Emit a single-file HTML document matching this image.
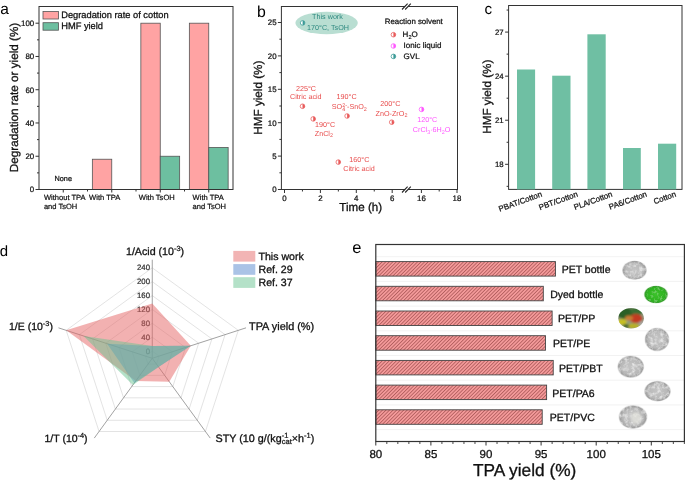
<!DOCTYPE html>
<html><head><meta charset="utf-8"><style>
html,body{margin:0;padding:0;background:#fff;width:685px;height:480px;overflow:hidden}
svg{display:block;will-change:transform}
text{font-family:"Liberation Sans",sans-serif;text-rendering:geometricPrecision}
</style></head><body>
<svg width="685" height="480" viewBox="0 0 685 480">
<rect width="685" height="480" fill="#fff"/>
<text x="0.20" y="14.10" font-size="15.5" fill="#000" stroke="#000" stroke-width="0.000" text-anchor="start" >a</text>
<rect x="92.35" y="159.23" width="19.40" height="30.27" fill="#FFA3A3" stroke="#555" stroke-width="0.8" />
<rect x="140.85" y="23.20" width="19.40" height="166.30" fill="#FFA3A3" stroke="#555" stroke-width="0.8" />
<rect x="160.25" y="156.24" width="19.40" height="33.26" fill="#6DBFA0" stroke="#555" stroke-width="0.8" />
<rect x="189.35" y="23.20" width="19.40" height="166.30" fill="#FFA3A3" stroke="#555" stroke-width="0.8" />
<rect x="208.75" y="147.43" width="19.40" height="42.07" fill="#6DBFA0" stroke="#555" stroke-width="0.8" />
<rect x="39.0" y="6.5" width="194.0" height="183.0" fill="none" stroke="#333" stroke-width="1"/>
<line x1="35.50" y1="189.50" x2="39.00" y2="189.50" stroke="#333" stroke-width="1" />
<text x="34.20" y="192.30" font-size="7.9" fill="#111" stroke="#111" stroke-width="0.237" text-anchor="end" >0</text>
<line x1="35.50" y1="156.24" x2="39.00" y2="156.24" stroke="#333" stroke-width="1" />
<text x="34.20" y="159.04" font-size="7.9" fill="#111" stroke="#111" stroke-width="0.237" text-anchor="end" >20</text>
<line x1="35.50" y1="122.98" x2="39.00" y2="122.98" stroke="#333" stroke-width="1" />
<text x="34.20" y="125.78" font-size="7.9" fill="#111" stroke="#111" stroke-width="0.237" text-anchor="end" >40</text>
<line x1="35.50" y1="89.72" x2="39.00" y2="89.72" stroke="#333" stroke-width="1" />
<text x="34.20" y="92.52" font-size="7.9" fill="#111" stroke="#111" stroke-width="0.237" text-anchor="end" >60</text>
<line x1="35.50" y1="56.46" x2="39.00" y2="56.46" stroke="#333" stroke-width="1" />
<text x="34.20" y="59.26" font-size="7.9" fill="#111" stroke="#111" stroke-width="0.237" text-anchor="end" >80</text>
<line x1="35.50" y1="23.20" x2="39.00" y2="23.20" stroke="#333" stroke-width="1" />
<text x="34.20" y="26.00" font-size="7.9" fill="#111" stroke="#111" stroke-width="0.237" text-anchor="end" >100</text>
<line x1="37.00" y1="172.87" x2="39.00" y2="172.87" stroke="#333" stroke-width="1" />
<line x1="37.00" y1="139.61" x2="39.00" y2="139.61" stroke="#333" stroke-width="1" />
<line x1="37.00" y1="106.35" x2="39.00" y2="106.35" stroke="#333" stroke-width="1" />
<line x1="37.00" y1="73.09" x2="39.00" y2="73.09" stroke="#333" stroke-width="1" />
<line x1="37.00" y1="39.83" x2="39.00" y2="39.83" stroke="#333" stroke-width="1" />
<line x1="63.25" y1="189.50" x2="63.25" y2="192.50" stroke="#333" stroke-width="1" />
<line x1="111.75" y1="189.50" x2="111.75" y2="192.50" stroke="#333" stroke-width="1" />
<line x1="160.25" y1="189.50" x2="160.25" y2="192.50" stroke="#333" stroke-width="1" />
<line x1="208.75" y1="189.50" x2="208.75" y2="192.50" stroke="#333" stroke-width="1" />
<line x1="87.50" y1="189.50" x2="87.50" y2="191.50" stroke="#333" stroke-width="1" />
<line x1="136.00" y1="189.50" x2="136.00" y2="191.50" stroke="#333" stroke-width="1" />
<line x1="184.50" y1="189.50" x2="184.50" y2="191.50" stroke="#333" stroke-width="1" />
<rect x="43.00" y="11.50" width="15.50" height="7.50" fill="#FFA3A3" stroke="#555" stroke-width="0.8" />
<rect x="43.00" y="22.70" width="15.50" height="7.50" fill="#6DBFA0" stroke="#555" stroke-width="0.8" />
<text x="61.20" y="18.00" font-size="9.3" fill="#111" stroke="#111" stroke-width="0.279" text-anchor="start" >Degradation rate of cotton</text>
<text x="61.20" y="29.20" font-size="9.3" fill="#111" stroke="#111" stroke-width="0.279" text-anchor="start" >HMF yield</text>
<text x="54.50" y="181.40" font-size="7.3" fill="#111" stroke="#111" stroke-width="0.219" text-anchor="start" >None</text>
<text x="43.90" y="199.80" font-size="7.55" fill="#111" stroke="#111" stroke-width="0.226" text-anchor="start" >Without TPA</text>
<text x="43.90" y="208.80" font-size="7.55" fill="#111" stroke="#111" stroke-width="0.226" text-anchor="start" >and TsOH</text>
<text x="89.10" y="199.80" font-size="7.55" fill="#111" stroke="#111" stroke-width="0.226" text-anchor="start" >With TPA</text>
<text x="138.80" y="199.80" font-size="7.55" fill="#111" stroke="#111" stroke-width="0.226" text-anchor="start" >With TsOH</text>
<text x="192.60" y="199.80" font-size="7.55" fill="#111" stroke="#111" stroke-width="0.226" text-anchor="start" >With TPA</text>
<text x="192.60" y="208.80" font-size="7.55" fill="#111" stroke="#111" stroke-width="0.226" text-anchor="start" >and TsOH</text>
<text x="0.00" y="0.00" font-size="11.7" fill="#111" stroke="#111" stroke-width="0.300" text-anchor="middle" transform="translate(17.6,97.5) rotate(-90)">Degradation rate or yield (%)</text>
<text x="257.00" y="16.60" font-size="15.8" fill="#000" stroke="#000" stroke-width="0.000" text-anchor="start" >b</text>
<ellipse cx="326.6" cy="23.0" rx="31.2" ry="11.2" fill="#B9DED2"/>
<rect x="281.4" y="6.5" width="176.10000000000002" height="183.0" fill="none" stroke="#333" stroke-width="1"/>
<polygon points="402.3,9.3 407.6,3.9 410.8,3.9 405.5,9.3" fill="#fff"/>
<line x1="402.00" y1="9.50" x2="407.60" y2="3.70" stroke="#222" stroke-width="1.1" />
<line x1="405.20" y1="9.50" x2="410.80" y2="3.70" stroke="#222" stroke-width="1.1" />
<polygon points="402.3,192.3 407.6,186.9 410.8,186.9 405.5,192.3" fill="#fff"/>
<line x1="402.00" y1="192.50" x2="407.60" y2="186.70" stroke="#222" stroke-width="1.1" />
<line x1="405.20" y1="192.50" x2="410.80" y2="186.70" stroke="#222" stroke-width="1.1" />
<line x1="277.90" y1="189.50" x2="281.40" y2="189.50" stroke="#333" stroke-width="1" />
<text x="276.60" y="192.30" font-size="7.9" fill="#111" stroke="#111" stroke-width="0.237" text-anchor="end" >0</text>
<line x1="277.90" y1="156.10" x2="281.40" y2="156.10" stroke="#333" stroke-width="1" />
<text x="276.60" y="158.90" font-size="7.9" fill="#111" stroke="#111" stroke-width="0.237" text-anchor="end" >5</text>
<line x1="277.90" y1="122.70" x2="281.40" y2="122.70" stroke="#333" stroke-width="1" />
<text x="276.60" y="125.50" font-size="7.9" fill="#111" stroke="#111" stroke-width="0.237" text-anchor="end" >10</text>
<line x1="277.90" y1="89.30" x2="281.40" y2="89.30" stroke="#333" stroke-width="1" />
<text x="276.60" y="92.10" font-size="7.9" fill="#111" stroke="#111" stroke-width="0.237" text-anchor="end" >15</text>
<line x1="277.90" y1="55.90" x2="281.40" y2="55.90" stroke="#333" stroke-width="1" />
<text x="276.60" y="58.70" font-size="7.9" fill="#111" stroke="#111" stroke-width="0.237" text-anchor="end" >20</text>
<line x1="277.90" y1="22.50" x2="281.40" y2="22.50" stroke="#333" stroke-width="1" />
<text x="276.60" y="25.30" font-size="7.9" fill="#111" stroke="#111" stroke-width="0.237" text-anchor="end" >25</text>
<line x1="279.40" y1="172.80" x2="281.40" y2="172.80" stroke="#333" stroke-width="1" />
<line x1="279.40" y1="139.40" x2="281.40" y2="139.40" stroke="#333" stroke-width="1" />
<line x1="279.40" y1="106.00" x2="281.40" y2="106.00" stroke="#333" stroke-width="1" />
<line x1="279.40" y1="72.60" x2="281.40" y2="72.60" stroke="#333" stroke-width="1" />
<line x1="279.40" y1="39.20" x2="281.40" y2="39.20" stroke="#333" stroke-width="1" />
<line x1="284.50" y1="189.50" x2="284.50" y2="193.00" stroke="#333" stroke-width="1" />
<text x="284.50" y="200.60" font-size="7.9" fill="#111" stroke="#111" stroke-width="0.237" text-anchor="middle" >0</text>
<line x1="320.40" y1="189.50" x2="320.40" y2="193.00" stroke="#333" stroke-width="1" />
<text x="320.40" y="200.60" font-size="7.9" fill="#111" stroke="#111" stroke-width="0.237" text-anchor="middle" >2</text>
<line x1="356.30" y1="189.50" x2="356.30" y2="193.00" stroke="#333" stroke-width="1" />
<text x="356.30" y="200.60" font-size="7.9" fill="#111" stroke="#111" stroke-width="0.237" text-anchor="middle" >4</text>
<line x1="392.20" y1="189.50" x2="392.20" y2="193.00" stroke="#333" stroke-width="1" />
<text x="392.20" y="200.60" font-size="7.9" fill="#111" stroke="#111" stroke-width="0.237" text-anchor="middle" >6</text>
<line x1="421.40" y1="189.50" x2="421.40" y2="193.00" stroke="#333" stroke-width="1" />
<text x="421.40" y="200.60" font-size="7.9" fill="#111" stroke="#111" stroke-width="0.237" text-anchor="middle" >16</text>
<line x1="457.00" y1="189.50" x2="457.00" y2="193.00" stroke="#333" stroke-width="1" />
<text x="457.00" y="200.60" font-size="7.9" fill="#111" stroke="#111" stroke-width="0.237" text-anchor="middle" >18</text>
<line x1="302.45" y1="189.50" x2="302.45" y2="191.50" stroke="#333" stroke-width="1" />
<line x1="338.35" y1="189.50" x2="338.35" y2="191.50" stroke="#333" stroke-width="1" />
<line x1="374.25" y1="189.50" x2="374.25" y2="191.50" stroke="#333" stroke-width="1" />
<line x1="439.20" y1="189.50" x2="439.20" y2="191.50" stroke="#333" stroke-width="1" />
<text x="360.70" y="211.00" font-size="11.6" fill="#111" stroke="#111" stroke-width="0.300" text-anchor="middle" >Time (h)</text>
<text x="0.00" y="0.00" font-size="11.7" fill="#111" stroke="#111" stroke-width="0.300" text-anchor="middle" transform="translate(261.7,97.65) rotate(-90)">HMF yield (%)</text>
<circle cx="302.60" cy="22.90" r="2.3" fill="#fff" stroke="#3A9A96" stroke-width="0.75"/>
<path d="M302.60,20.60 A2.3,2.3 0 0,1 302.60,25.20 Z" fill="#3A9A96"/>
<text x="327.50" y="19.40" font-size="7.2" fill="#2F8A80" stroke="#2F8A80" stroke-width="0.000" text-anchor="middle" >This work</text>
<text x="328.00" y="29.50" font-size="7.2" fill="#2F8A80" stroke="#2F8A80" stroke-width="0.000" text-anchor="middle" >170°C, TsOH</text>
<text x="384.80" y="23.90" font-size="7.85" fill="#111" stroke="#111" stroke-width="0.235" text-anchor="start" >Reaction solvent</text>
<circle cx="393.40" cy="34.70" r="2.3" fill="#fff" stroke="#E85A5A" stroke-width="0.75"/>
<path d="M393.40,32.40 A2.3,2.3 0 0,1 393.40,37.00 Z" fill="#E85A5A"/>
<circle cx="393.40" cy="46.00" r="2.3" fill="#fff" stroke="#FF55FF" stroke-width="0.75"/>
<path d="M393.40,43.70 A2.3,2.3 0 0,1 393.40,48.30 Z" fill="#FF55FF"/>
<circle cx="393.40" cy="56.40" r="2.3" fill="#fff" stroke="#3A9A96" stroke-width="0.75"/>
<path d="M393.40,54.10 A2.3,2.3 0 0,1 393.40,58.70 Z" fill="#3A9A96"/>
<text x="402.60" y="37.20" font-size="8.00" fill="#111" stroke="#111" stroke-width="0.240">H</text>
<text x="408.38" y="38.96" font-size="5.60" fill="#111" stroke="#111" stroke-width="0.168">2</text>
<text x="411.49" y="37.20" font-size="8.00" fill="#111" stroke="#111" stroke-width="0.240">O</text>
<text x="403.60" y="48.30" font-size="8.0" fill="#111" stroke="#111" stroke-width="0.240" text-anchor="start" >Ionic liquid</text>
<text x="403.60" y="58.70" font-size="8.0" fill="#111" stroke="#111" stroke-width="0.240" text-anchor="start" >GVL</text>
<circle cx="302.50" cy="106.25" r="2.3" fill="#fff" stroke="#E85A5A" stroke-width="0.75"/>
<path d="M302.50,103.95 A2.3,2.3 0 0,1 302.50,108.55 Z" fill="#E85A5A"/>
<circle cx="313.20" cy="118.90" r="2.3" fill="#fff" stroke="#E85A5A" stroke-width="0.75"/>
<path d="M313.20,116.60 A2.3,2.3 0 0,1 313.20,121.20 Z" fill="#E85A5A"/>
<circle cx="347.10" cy="116.00" r="2.3" fill="#fff" stroke="#E85A5A" stroke-width="0.75"/>
<path d="M347.10,113.70 A2.3,2.3 0 0,1 347.10,118.30 Z" fill="#E85A5A"/>
<circle cx="338.30" cy="162.10" r="2.3" fill="#fff" stroke="#E85A5A" stroke-width="0.75"/>
<path d="M338.30,159.80 A2.3,2.3 0 0,1 338.30,164.40 Z" fill="#E85A5A"/>
<circle cx="391.70" cy="122.20" r="2.3" fill="#fff" stroke="#E85A5A" stroke-width="0.75"/>
<path d="M391.70,119.90 A2.3,2.3 0 0,1 391.70,124.50 Z" fill="#E85A5A"/>
<circle cx="421.50" cy="109.40" r="2.3" fill="#fff" stroke="#FF55FF" stroke-width="0.75"/>
<path d="M421.50,107.10 A2.3,2.3 0 0,1 421.50,111.70 Z" fill="#FF55FF"/>
<text x="306.00" y="90.60" font-size="7.2" fill="#E84C4C" stroke="#E84C4C" stroke-width="0.000" text-anchor="middle" >225°C</text>
<text x="305.80" y="99.40" font-size="7.2" fill="#E84C4C" stroke="#E84C4C" stroke-width="0.000" text-anchor="middle" >Citric acid</text>
<text x="325.10" y="126.90" font-size="7.2" fill="#E84C4C" stroke="#E84C4C" stroke-width="0.000" text-anchor="middle" >190°C</text>
<text x="314.75" y="135.60" font-size="7.20" fill="#E84C4C" stroke="#E84C4C" stroke-width="0.000">ZnCl</text>
<text x="329.95" y="137.18" font-size="5.40" fill="#E84C4C" stroke="#E84C4C" stroke-width="0.000">2</text>
<text x="346.60" y="98.75" font-size="7.2" fill="#E84C4C" stroke="#E84C4C" stroke-width="0.000" text-anchor="middle" >190°C</text>
<text x="331.80" y="109.00" font-size="7.20" fill="#E84C4C" stroke="#E84C4C" stroke-width="0.000">SO</text>
<text x="342.20" y="106.55" font-size="5.40" fill="#E84C4C" stroke="#E84C4C" stroke-width="0.000">2-</text>
<text x="342.20" y="110.73" font-size="5.40" fill="#E84C4C" stroke="#E84C4C" stroke-width="0.000">4</text>
<text x="347.00" y="109.00" font-size="7.20" fill="#E84C4C" stroke="#E84C4C" stroke-width="0.000">-SnO</text>
<text x="363.81" y="110.58" font-size="5.40" fill="#E84C4C" stroke="#E84C4C" stroke-width="0.000">2</text>
<text x="359.30" y="161.80" font-size="7.2" fill="#E84C4C" stroke="#E84C4C" stroke-width="0.000" text-anchor="middle" >160°C</text>
<text x="359.00" y="170.60" font-size="7.2" fill="#E84C4C" stroke="#E84C4C" stroke-width="0.000" text-anchor="middle" >Citric acid</text>
<text x="390.40" y="106.40" font-size="7.2" fill="#E84C4C" stroke="#E84C4C" stroke-width="0.000" text-anchor="middle" >200°C</text>
<text x="375.60" y="115.60" font-size="7.20" fill="#E84C4C" stroke="#E84C4C" stroke-width="0.000">ZnO-ZrO</text>
<text x="404.40" y="117.18" font-size="5.40" fill="#E84C4C" stroke="#E84C4C" stroke-width="0.000">2</text>
<text x="427.20" y="122.20" font-size="7.2" fill="#FF55FF" stroke="#FF55FF" stroke-width="0.000" text-anchor="middle" >120°C</text>
<text x="412.80" y="132.00" font-size="7.20" fill="#FF55FF" stroke="#FF55FF" stroke-width="0.000">CrCl</text>
<text x="427.20" y="133.58" font-size="5.40" fill="#FF55FF" stroke="#FF55FF" stroke-width="0.000">3</text>
<text x="430.20" y="132.00" font-size="7.20" fill="#FF55FF" stroke="#FF55FF" stroke-width="0.000">·6H</text>
<text x="441.80" y="133.58" font-size="5.40" fill="#FF55FF" stroke="#FF55FF" stroke-width="0.000">2</text>
<text x="444.81" y="132.00" font-size="7.20" fill="#FF55FF" stroke="#FF55FF" stroke-width="0.000">O</text>
<text x="484.60" y="14.00" font-size="15.2" fill="#000" stroke="#000" stroke-width="0.000" text-anchor="start" >c</text>
<rect x="508.6" y="5.5" width="173.39999999999998" height="183.9" fill="none" stroke="#333" stroke-width="1"/>
<line x1="505.10" y1="164.30" x2="508.60" y2="164.30" stroke="#333" stroke-width="1" />
<text x="503.70" y="167.10" font-size="7.8" fill="#111" stroke="#111" stroke-width="0.234" text-anchor="end" >18</text>
<line x1="505.10" y1="120.23" x2="508.60" y2="120.23" stroke="#333" stroke-width="1" />
<text x="503.70" y="123.03" font-size="7.8" fill="#111" stroke="#111" stroke-width="0.234" text-anchor="end" >21</text>
<line x1="505.10" y1="76.16" x2="508.60" y2="76.16" stroke="#333" stroke-width="1" />
<text x="503.70" y="78.96" font-size="7.8" fill="#111" stroke="#111" stroke-width="0.234" text-anchor="end" >24</text>
<line x1="505.10" y1="32.09" x2="508.60" y2="32.09" stroke="#333" stroke-width="1" />
<text x="503.70" y="34.89" font-size="7.8" fill="#111" stroke="#111" stroke-width="0.234" text-anchor="end" >27</text>
<line x1="506.60" y1="186.34" x2="508.60" y2="186.34" stroke="#333" stroke-width="1" />
<line x1="506.60" y1="142.27" x2="508.60" y2="142.27" stroke="#333" stroke-width="1" />
<line x1="506.60" y1="98.20" x2="508.60" y2="98.20" stroke="#333" stroke-width="1" />
<line x1="506.60" y1="54.13" x2="508.60" y2="54.13" stroke="#333" stroke-width="1" />
<line x1="506.60" y1="10.06" x2="508.60" y2="10.06" stroke="#333" stroke-width="1" />
<rect x="517.00" y="69.50" width="18.10" height="119.90" fill="#6FBFA3" stroke="none" stroke-width="1" />
<rect x="552.20" y="75.70" width="18.30" height="113.70" fill="#6FBFA3" stroke="none" stroke-width="1" />
<rect x="587.40" y="34.30" width="18.30" height="155.10" fill="#6FBFA3" stroke="none" stroke-width="1" />
<rect x="623.00" y="148.00" width="17.80" height="41.40" fill="#6FBFA3" stroke="none" stroke-width="1" />
<rect x="658.00" y="143.70" width="18.20" height="45.70" fill="#6FBFA3" stroke="none" stroke-width="1" />
<text x="0.00" y="0.00" font-size="7.9" fill="#111" stroke="#111" stroke-width="0.237" text-anchor="end" transform="translate(542.60,196.2) rotate(-20)">PBAT/Cotton</text>
<text x="0.00" y="0.00" font-size="7.9" fill="#111" stroke="#111" stroke-width="0.237" text-anchor="end" transform="translate(578.30,196.2) rotate(-20)">PBT/Cotton</text>
<text x="0.00" y="0.00" font-size="7.9" fill="#111" stroke="#111" stroke-width="0.237" text-anchor="end" transform="translate(613.00,196.2) rotate(-20)">PLA/Cotton</text>
<text x="0.00" y="0.00" font-size="7.9" fill="#111" stroke="#111" stroke-width="0.237" text-anchor="end" transform="translate(647.50,196.2) rotate(-20)">PA6/Cotton</text>
<text x="0.00" y="0.00" font-size="7.9" fill="#111" stroke="#111" stroke-width="0.237" text-anchor="end" transform="translate(676.60,196.2) rotate(-20)">Cotton</text>
<text x="0.00" y="0.00" font-size="11.7" fill="#111" stroke="#111" stroke-width="0.300" text-anchor="middle" transform="translate(490.6,96.7) rotate(-90)">HMF yield (%)</text>
<text x="-0.3" y="255.9" font-size="15" fill="#000">d</text>
<polygon points="152.25,351.10 159.10,356.08 156.48,364.12 148.02,364.12 145.40,356.08" fill="none" stroke="#DCDCDC" stroke-width="0.8"/>
<polygon points="152.25,337.22 172.30,351.79 164.64,375.35 139.86,375.35 132.20,351.79" fill="none" stroke="#DCDCDC" stroke-width="0.8"/>
<polygon points="152.25,323.34 185.50,347.50 172.80,386.58 131.70,386.58 119.00,347.50" fill="none" stroke="#DCDCDC" stroke-width="0.8"/>
<polygon points="152.25,309.46 198.70,343.21 180.96,397.81 123.54,397.81 105.80,343.21" fill="none" stroke="#DCDCDC" stroke-width="0.8"/>
<polygon points="152.25,295.58 211.90,338.92 189.12,409.04 115.38,409.04 92.60,338.92" fill="none" stroke="#DCDCDC" stroke-width="0.8"/>
<polygon points="152.25,281.70 225.10,334.63 197.27,420.27 107.23,420.27 79.40,334.63" fill="none" stroke="#DCDCDC" stroke-width="0.8"/>
<polygon points="152.25,267.82 238.30,330.34 205.43,431.50 99.07,431.50 66.20,330.34" fill="none" stroke="#DCDCDC" stroke-width="0.8"/>
<line x1="152.25" y1="358.30" x2="152.25" y2="259.70" stroke="#8A8A8A" stroke-width="0.8" />
<line x1="152.25" y1="358.30" x2="246.02" y2="327.83" stroke="#8A8A8A" stroke-width="0.8" />
<line x1="152.25" y1="358.30" x2="210.21" y2="438.07" stroke="#8A8A8A" stroke-width="0.8" />
<line x1="152.25" y1="358.30" x2="94.29" y2="438.07" stroke="#8A8A8A" stroke-width="0.8" />
<line x1="152.25" y1="358.30" x2="58.48" y2="327.83" stroke="#8A8A8A" stroke-width="0.8" />
<text x="150.00" y="354.00" font-size="7.8" fill="#333" stroke="#333" stroke-width="0.234" text-anchor="end" >0</text>
<text x="150.00" y="340.00" font-size="7.8" fill="#333" stroke="#333" stroke-width="0.234" text-anchor="end" >40</text>
<text x="150.00" y="326.00" font-size="7.8" fill="#333" stroke="#333" stroke-width="0.234" text-anchor="end" >80</text>
<text x="150.00" y="312.00" font-size="7.8" fill="#333" stroke="#333" stroke-width="0.234" text-anchor="end" >120</text>
<text x="150.00" y="298.00" font-size="7.8" fill="#333" stroke="#333" stroke-width="0.234" text-anchor="end" >160</text>
<text x="150.00" y="284.00" font-size="7.8" fill="#333" stroke="#333" stroke-width="0.234" text-anchor="end" >200</text>
<text x="150.00" y="270.00" font-size="7.8" fill="#333" stroke="#333" stroke-width="0.234" text-anchor="end" >240</text>
<polygon points="152.25,303.56 190.78,345.78 169.25,381.70 135.78,380.97 66.20,330.34" fill="#E66464" fill-opacity="0.5" stroke="none"/>
<polygon points="152.25,345.89 190.78,345.78 158.52,366.93 134.35,382.93 107.12,343.64" fill="#5587CD" fill-opacity="0.5" stroke="none"/>
<polygon points="152.25,345.89 190.78,345.78 158.52,366.93 132.92,384.90 83.52,335.97" fill="#69C391" fill-opacity="0.5" stroke="none"/>
<rect x="233.30" y="250.90" width="22.00" height="10.70" fill="#F2B4B4" stroke="none" stroke-width="1" />
<rect x="233.30" y="264.10" width="22.00" height="10.70" fill="#AAC3E6" stroke="none" stroke-width="1" />
<rect x="233.30" y="277.20" width="22.00" height="10.70" fill="#B4E1C8" stroke="none" stroke-width="1" />
<text x="258.50" y="259.60" font-size="10.6" fill="#111" stroke="#111" stroke-width="0.300" text-anchor="start" >This work</text>
<text x="258.50" y="272.90" font-size="10.6" fill="#111" stroke="#111" stroke-width="0.300" text-anchor="start" >Ref. 29</text>
<text x="258.50" y="286.00" font-size="10.6" fill="#111" stroke="#111" stroke-width="0.300" text-anchor="start" >Ref. 37</text>
<text x="126.00" y="254.70" font-size="10.65" fill="#111" stroke="#111" stroke-width="0.300">1/Acid (10</text>
<text x="173.95" y="251.08" font-size="7.46" fill="#111" stroke="#111" stroke-width="0.224">-3</text>
<text x="180.58" y="254.70" font-size="10.65" fill="#111" stroke="#111" stroke-width="0.300">)</text>
<text x="9.00" y="329.90" font-size="10.50" fill="#111" stroke="#111" stroke-width="0.300">1/E (10</text>
<text x="42.85" y="326.33" font-size="7.35" fill="#111" stroke="#111" stroke-width="0.220">-3</text>
<text x="49.39" y="329.90" font-size="10.50" fill="#111" stroke="#111" stroke-width="0.300">)</text>
<text x="249.00" y="330.00" font-size="10.9" fill="#111" stroke="#111" stroke-width="0.300" text-anchor="start" >TPA yield (%)</text>
<text x="44.50" y="442.00" font-size="10.50" fill="#111" stroke="#111" stroke-width="0.300">1/T (10</text>
<text x="77.58" y="438.43" font-size="7.35" fill="#111" stroke="#111" stroke-width="0.220">-4</text>
<text x="84.11" y="442.00" font-size="10.50" fill="#111" stroke="#111" stroke-width="0.300">)</text>
<text x="215.60" y="441.70" font-size="10.75" fill="#111" stroke="#111" stroke-width="0.300">STY (10 g/(kg</text>
<text x="281.72" y="438.05" font-size="7.52" fill="#111" stroke="#111" stroke-width="0.226">-1</text>
<text x="281.72" y="444.28" font-size="7.52" fill="#111" stroke="#111" stroke-width="0.226">cat</text>
<text x="291.76" y="441.70" font-size="10.75" fill="#111" stroke="#111" stroke-width="0.300">×h</text>
<text x="304.02" y="438.05" font-size="7.52" fill="#111" stroke="#111" stroke-width="0.226">-1</text>
<text x="310.71" y="441.70" font-size="10.75" fill="#111" stroke="#111" stroke-width="0.300">)</text>
<text x="352.2" y="253.1" font-size="16.5" fill="#000">e</text>
<defs><pattern id="hatch" patternUnits="userSpaceOnUse" width="2.5" height="2.5" patternTransform="rotate(45)"><rect width="2.5" height="2.5" fill="#F49A9A"/><rect x="0" width="0.85" height="2.5" fill="#B25E5E"/></pattern></defs>
<line x1="375.80" y1="256.70" x2="684.40" y2="256.70" stroke="#EFEFEF" stroke-width="0.8" />
<line x1="375.80" y1="281.40" x2="684.40" y2="281.40" stroke="#EFEFEF" stroke-width="0.8" />
<line x1="375.80" y1="306.10" x2="684.40" y2="306.10" stroke="#EFEFEF" stroke-width="0.8" />
<line x1="375.80" y1="330.80" x2="684.40" y2="330.80" stroke="#EFEFEF" stroke-width="0.8" />
<line x1="375.80" y1="355.50" x2="684.40" y2="355.50" stroke="#EFEFEF" stroke-width="0.8" />
<line x1="375.80" y1="380.20" x2="684.40" y2="380.20" stroke="#EFEFEF" stroke-width="0.8" />
<line x1="375.80" y1="404.90" x2="684.40" y2="404.90" stroke="#EFEFEF" stroke-width="0.8" />
<line x1="375.80" y1="429.60" x2="684.40" y2="429.60" stroke="#EFEFEF" stroke-width="0.8" />
<rect x="375.80" y="261.60" width="179.63" height="14.50" fill="url(#hatch)" stroke="#444" stroke-width="0.9" />
<text x="561.70" y="273.00" font-size="10.5" fill="#111" stroke="#111" stroke-width="0.300" text-anchor="start" >PET bottle</text>
<rect x="375.80" y="286.30" width="167.50" height="14.50" fill="url(#hatch)" stroke="#444" stroke-width="0.9" />
<text x="550.20" y="297.70" font-size="10.5" fill="#111" stroke="#111" stroke-width="0.300" text-anchor="start" >Dyed bottle</text>
<rect x="375.80" y="311.00" width="176.32" height="14.50" fill="url(#hatch)" stroke="#444" stroke-width="0.9" />
<text x="557.90" y="322.40" font-size="10.5" fill="#111" stroke="#111" stroke-width="0.300" text-anchor="start" >PET/PP</text>
<rect x="375.80" y="335.70" width="169.71" height="14.50" fill="url(#hatch)" stroke="#444" stroke-width="0.9" />
<text x="552.90" y="347.10" font-size="10.5" fill="#111" stroke="#111" stroke-width="0.300" text-anchor="start" >PET/PE</text>
<rect x="375.80" y="360.40" width="177.42" height="14.50" fill="url(#hatch)" stroke="#444" stroke-width="0.9" />
<text x="559.00" y="371.80" font-size="10.5" fill="#111" stroke="#111" stroke-width="0.300" text-anchor="start" >PET/PBT</text>
<rect x="375.80" y="385.10" width="170.81" height="14.50" fill="url(#hatch)" stroke="#444" stroke-width="0.9" />
<text x="552.30" y="396.50" font-size="10.5" fill="#111" stroke="#111" stroke-width="0.300" text-anchor="start" >PET/PA6</text>
<rect x="375.80" y="409.80" width="166.40" height="14.50" fill="url(#hatch)" stroke="#444" stroke-width="0.9" />
<text x="549.80" y="421.20" font-size="10.5" fill="#111" stroke="#111" stroke-width="0.300" text-anchor="start" >PET/PVC</text>
<rect x="375.8" y="244.5" width="308.59999999999997" height="197.0" fill="none" stroke="#333" stroke-width="1.2"/>
<line x1="375.80" y1="441.50" x2="375.80" y2="445.50" stroke="#333" stroke-width="1" />
<text x="375.80" y="457.50" font-size="11.5" fill="#111" stroke="#111" stroke-width="0.300" text-anchor="middle" >80</text>
<line x1="386.82" y1="441.50" x2="386.82" y2="444.00" stroke="#333" stroke-width="0.9" />
<line x1="397.84" y1="441.50" x2="397.84" y2="444.00" stroke="#333" stroke-width="0.9" />
<line x1="408.86" y1="441.50" x2="408.86" y2="444.00" stroke="#333" stroke-width="0.9" />
<line x1="419.88" y1="441.50" x2="419.88" y2="444.00" stroke="#333" stroke-width="0.9" />
<line x1="430.90" y1="441.50" x2="430.90" y2="445.50" stroke="#333" stroke-width="1" />
<text x="430.90" y="457.50" font-size="11.5" fill="#111" stroke="#111" stroke-width="0.300" text-anchor="middle" >85</text>
<line x1="441.92" y1="441.50" x2="441.92" y2="444.00" stroke="#333" stroke-width="0.9" />
<line x1="452.94" y1="441.50" x2="452.94" y2="444.00" stroke="#333" stroke-width="0.9" />
<line x1="463.96" y1="441.50" x2="463.96" y2="444.00" stroke="#333" stroke-width="0.9" />
<line x1="474.98" y1="441.50" x2="474.98" y2="444.00" stroke="#333" stroke-width="0.9" />
<line x1="486.00" y1="441.50" x2="486.00" y2="445.50" stroke="#333" stroke-width="1" />
<text x="486.00" y="457.50" font-size="11.5" fill="#111" stroke="#111" stroke-width="0.300" text-anchor="middle" >90</text>
<line x1="497.02" y1="441.50" x2="497.02" y2="444.00" stroke="#333" stroke-width="0.9" />
<line x1="508.04" y1="441.50" x2="508.04" y2="444.00" stroke="#333" stroke-width="0.9" />
<line x1="519.06" y1="441.50" x2="519.06" y2="444.00" stroke="#333" stroke-width="0.9" />
<line x1="530.08" y1="441.50" x2="530.08" y2="444.00" stroke="#333" stroke-width="0.9" />
<line x1="541.10" y1="441.50" x2="541.10" y2="445.50" stroke="#333" stroke-width="1" />
<text x="541.10" y="457.50" font-size="11.5" fill="#111" stroke="#111" stroke-width="0.300" text-anchor="middle" >95</text>
<line x1="552.12" y1="441.50" x2="552.12" y2="444.00" stroke="#333" stroke-width="0.9" />
<line x1="563.14" y1="441.50" x2="563.14" y2="444.00" stroke="#333" stroke-width="0.9" />
<line x1="574.16" y1="441.50" x2="574.16" y2="444.00" stroke="#333" stroke-width="0.9" />
<line x1="585.18" y1="441.50" x2="585.18" y2="444.00" stroke="#333" stroke-width="0.9" />
<line x1="596.20" y1="441.50" x2="596.20" y2="445.50" stroke="#333" stroke-width="1" />
<text x="596.20" y="457.50" font-size="11.5" fill="#111" stroke="#111" stroke-width="0.300" text-anchor="middle" >100</text>
<line x1="607.22" y1="441.50" x2="607.22" y2="444.00" stroke="#333" stroke-width="0.9" />
<line x1="618.24" y1="441.50" x2="618.24" y2="444.00" stroke="#333" stroke-width="0.9" />
<line x1="629.26" y1="441.50" x2="629.26" y2="444.00" stroke="#333" stroke-width="0.9" />
<line x1="640.28" y1="441.50" x2="640.28" y2="444.00" stroke="#333" stroke-width="0.9" />
<line x1="651.30" y1="441.50" x2="651.30" y2="445.50" stroke="#333" stroke-width="1" />
<text x="651.30" y="457.50" font-size="11.5" fill="#111" stroke="#111" stroke-width="0.300" text-anchor="middle" >105</text>
<line x1="662.32" y1="441.50" x2="662.32" y2="444.00" stroke="#333" stroke-width="0.9" />
<line x1="673.34" y1="441.50" x2="673.34" y2="444.00" stroke="#333" stroke-width="0.9" />
<line x1="684.36" y1="441.50" x2="684.36" y2="444.00" stroke="#333" stroke-width="0.9" />
<text x="524.60" y="476.00" font-size="17.3" fill="#111" stroke="#111" stroke-width="0.300" text-anchor="middle" >TPA yield (%)</text>
<defs>
<radialGradient id="gph" cx="50%" cy="50%" r="50%"><stop offset="0" stop-color="#C4C4C4"/><stop offset="0.7" stop-color="#B9B9B9"/><stop offset="0.9" stop-color="#A0A0A0"/><stop offset="1" stop-color="#B0B0B0" stop-opacity="0.3"/></radialGradient>
<radialGradient id="gn" cx="50%" cy="50%" r="50%"><stop offset="0" stop-color="#3CC22C"/><stop offset="0.75" stop-color="#2DB21F"/><stop offset="0.9" stop-color="#38A030"/><stop offset="1" stop-color="#7AC070" stop-opacity="0.3"/></radialGradient>
<filter id="spk" x="-10%" y="-10%" width="120%" height="120%">
<feTurbulence type="fractalNoise" baseFrequency="0.28" numOctaves="3" seed="7" result="t"/>
<feColorMatrix in="t" type="matrix" values="0 0 0 0 1  0 0 0 0 1  0 0 0 0 1  0 0 0 1.3 -0.55" result="w"/>
<feComposite in="w" in2="SourceGraphic" operator="in" result="wc"/>
<feMerge result="m"><feMergeNode in="SourceGraphic"/><feMergeNode in="wc"/></feMerge>
<feGaussianBlur in="m" stdDeviation="0.75"/>
</filter>
<filter id="bl"><feGaussianBlur stdDeviation="0.8"/></filter>
<filter id="spk2" x="-10%" y="-10%" width="120%" height="120%">
<feTurbulence type="fractalNoise" baseFrequency="0.35" numOctaves="2" seed="3" result="t"/>
<feColorMatrix in="t" type="matrix" values="0 0 0 0 0.55  0 0 0 0 0.95  0 0 0 0 0.45  0 0 0 0.9 -0.45" result="w"/>
<feComposite in="w" in2="SourceGraphic" operator="in" result="wc"/>
<feMerge result="m"><feMergeNode in="SourceGraphic"/><feMergeNode in="wc"/></feMerge>
<feGaussianBlur in="m" stdDeviation="0.6"/>
</filter>
<clipPath id="cpm"><ellipse cx="631.1" cy="318.3" rx="12.8" ry="10.2"/></clipPath>
</defs>
<ellipse cx="634.5" cy="270.2" rx="12.5" ry="9.8" fill="url(#gph)" filter="url(#spk)"/>
<ellipse cx="656.0" cy="294.5" rx="12.2" ry="9.1" fill="url(#gn)" filter="url(#spk2)"/>
<ellipse cx="657.0" cy="339.5" rx="12.5" ry="11.9" fill="url(#gph)" filter="url(#spk)"/>
<ellipse cx="630.75" cy="366.75" rx="13.5" ry="11.25" fill="url(#gph)" filter="url(#spk)"/>
<ellipse cx="657.5" cy="391.25" rx="13.5" ry="10.4" fill="url(#gph)" filter="url(#spk)"/>
<ellipse cx="633.0" cy="417.0" rx="14.5" ry="11.9" fill="url(#gph)" filter="url(#spk)"/>
<ellipse cx="636" cy="418" rx="5" ry="6" fill="#E6E6E0" opacity="0.7" filter="url(#bl)"/>
<g clip-path="url(#cpm)"><g filter="url(#bl)">
<rect x="616" y="306" width="30" height="25" fill="#8E9A7E"/>
<ellipse cx="625" cy="313" rx="9" ry="6" fill="#2A5E26"/>
<ellipse cx="637" cy="311" rx="7" ry="4" fill="#3A6E30"/>
<ellipse cx="636" cy="318.5" rx="6.5" ry="4.5" fill="#C23A22"/>
<ellipse cx="629" cy="318" rx="4" ry="2.5" fill="#C87A30"/>
<ellipse cx="622" cy="322" rx="5" ry="3" fill="#C8C020"/>
<ellipse cx="633" cy="326" rx="7" ry="2.5" fill="#B8B020"/>
<ellipse cx="626" cy="326" rx="3" ry="2" fill="#4A6A2A"/>
<ellipse cx="642" cy="324" rx="3" ry="3" fill="#A8A8A0"/>
</g></g>
</svg></body></html>
